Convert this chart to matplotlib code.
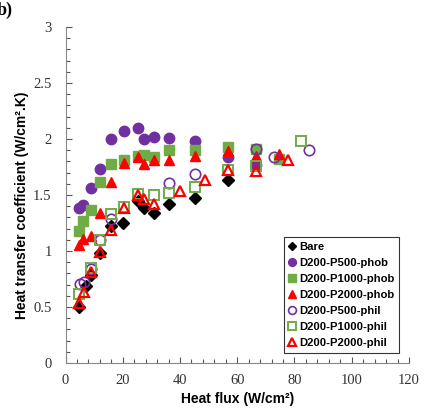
import matplotlib
matplotlib.use('Agg')
import matplotlib.pyplot as plt
from matplotlib.ticker import MultipleLocator, FormatStrFormatter

plt.rcParams['font.serif'] = ['Liberation Serif', 'Times New Roman', 'Nimbus Roman', 'DejaVu Serif']

# heat flux (W/cm2) and heat transfer coefficient (W/cm2.K)
bare_q = [4.7, 7.2, 8.8, 12.0, 15.9, 20.2, 25.2, 27.4, 31.0, 36.0, 45.4, 56.7]
bare_h = [0.50, 0.69, 0.79, 0.98, 1.22, 1.25, 1.45, 1.38, 1.34, 1.42, 1.47, 1.63]

p500_phob_q = [4.8, 6.2, 8.8, 12.0, 15.9, 20.5, 25.2, 27.4, 31.0, 36.0, 45.4, 56.7, 66.5]
p500_phob_h = [1.38, 1.41, 1.56, 1.73, 2.00, 2.07, 2.10, 2.00, 2.02, 2.01, 1.98, 1.84, 1.77]

p1000_phob_q = [4.8, 6.2, 8.8, 12.0, 15.9, 20.5, 25.2, 27.4, 31.0, 36.0, 45.4, 56.7, 66.5, 74.5]
p1000_phob_h = [1.18, 1.27, 1.37, 1.62, 1.78, 1.81, 1.85, 1.86, 1.84, 1.90, 1.90, 1.93, 1.91, 1.82]

p2000_phob_q = [4.8, 6.2, 8.8, 12.0, 15.9, 20.5, 25.2, 27.4, 31.0, 36.0, 45.4, 56.7, 66.5, 74.5]
p2000_phob_h = [1.05, 1.11, 1.13, 1.34, 1.62, 1.79, 1.84, 1.78, 1.81, 1.81, 1.85, 1.89, 1.85, 1.87]

p500_phil_q = [5.1, 6.5, 8.8, 12.0, 15.9, 36.0, 45.4, 66.5, 72.8, 85.1]
p500_phil_h = [0.71, 0.72, 0.84, 1.10, 1.29, 1.61, 1.69, 1.91, 1.84, 1.90]

p1000_phil_q = [4.7, 8.8, 12.0, 15.9, 20.5, 25.2, 31.0, 36.0, 45.4, 56.7, 66.5, 82.4]
p1000_phil_h = [0.62, 0.85, 1.10, 1.33, 1.39, 1.51, 1.50, 1.52, 1.57, 1.72, 1.76, 1.98]

p2000_phil_q = [4.7, 6.5, 8.8, 12.0, 15.9, 20.5, 25.2, 27.4, 31.0, 40.0, 48.9, 56.7, 66.5, 77.8]
p2000_phil_h = [0.54, 0.63, 0.81, 0.99, 1.19, 1.38, 1.50, 1.46, 1.42, 1.54, 1.63, 1.72, 1.71, 1.81]

purple = '#7030A0'
green = '#6FAC46'
red = '#FF0000'

fig = plt.figure(figsize=(4.24, 4.13), dpi=100)
ax = fig.add_axes([0.1545, 0.121, 0.81, 0.8136])

ax.plot(bare_q, bare_h, 'D', color='black', ms=5.8, ls='none', label='Bare')
ax.plot(p500_phob_q, p500_phob_h, 'o', color=purple, ms=7.5, ls='none', label='D200-P500-phob')
ax.plot(p1000_phob_q, p1000_phob_h, 's', color=green, ms=7, ls='none', label='D200-P1000-phob')
ax.plot(p2000_phob_q, p2000_phob_h, '^', color=red, ms=7.5, ls='none', label='D200-P2000-phob')
ax.plot(p500_phil_q, p500_phil_h, 'o', mfc='none', mec=purple, mew=1.2, ms=7.5, ls='none', label='D200-P500-phil')
ax.plot(p1000_phil_q, p1000_phil_h, 's', mfc='none', mec=green, mew=1.4, ms=7, ls='none', label='D200-P1000-phil')
ax.plot(p2000_phil_q, p2000_phil_h, '^', mfc='none', mec=red, mew=1.6, ms=7.5, ls='none', label='D200-P2000-phil')

ax.set_xlim(0, 120)
ax.set_ylim(0, 3)
ax.xaxis.set_major_locator(MultipleLocator(20))
ax.xaxis.set_minor_locator(MultipleLocator(4))
ax.yaxis.set_major_locator(MultipleLocator(0.5))
ax.yaxis.set_minor_locator(MultipleLocator(0.1))
ax.yaxis.set_major_formatter(FormatStrFormatter('%g'))

for s in ['top', 'right']:
    ax.spines[s].set_visible(False)
for s in ['left', 'bottom']:
    ax.spines[s].set_color('#888888')
    ax.spines[s].set_linewidth(0.8)
ax.tick_params(which='both', direction='in', color='#555555', width=0.8)
ax.tick_params(which='major', length=4)
ax.tick_params(which='minor', length=3)
ax.tick_params(axis='x', pad=8)
ax.tick_params(axis='y', pad=10)
for lab in ax.get_xticklabels() + ax.get_yticklabels():
    lab.set_fontfamily('serif')
    lab.set_fontsize(10.5)
    lab.set_color('#333333')

ax.set_xlabel('Heat flux (W/cm²)', family='Liberation Sans', weight='bold', fontsize=10)
ax.set_ylabel('Heat transfer coefficient (W/cm².K)', family='Liberation Sans',
              weight='bold', fontsize=10)
ax.xaxis.set_label_coords(0.5, -0.085)
ax.yaxis.set_label_coords(-0.105, 0.47)

leg = ax.legend(loc='lower right', bbox_to_anchor=(0.972, 0.03), frameon=True, fancybox=False,
                prop={'family': 'Liberation Sans', 'weight': 'bold', 'size': 8.1},
                handlelength=0.6, handletextpad=0.3, labelspacing=0.53, borderpad=0.45,
                markerscale=0.75, borderaxespad=0)
leg.get_frame().set_edgecolor('black')
leg.get_frame().set_linewidth(0.8)

fig.text(-0.008, 0.995, 'b)', family='serif', weight='bold', fontsize=13, va='top', ha='left')

fig.savefig('out.png', dpi=100)
